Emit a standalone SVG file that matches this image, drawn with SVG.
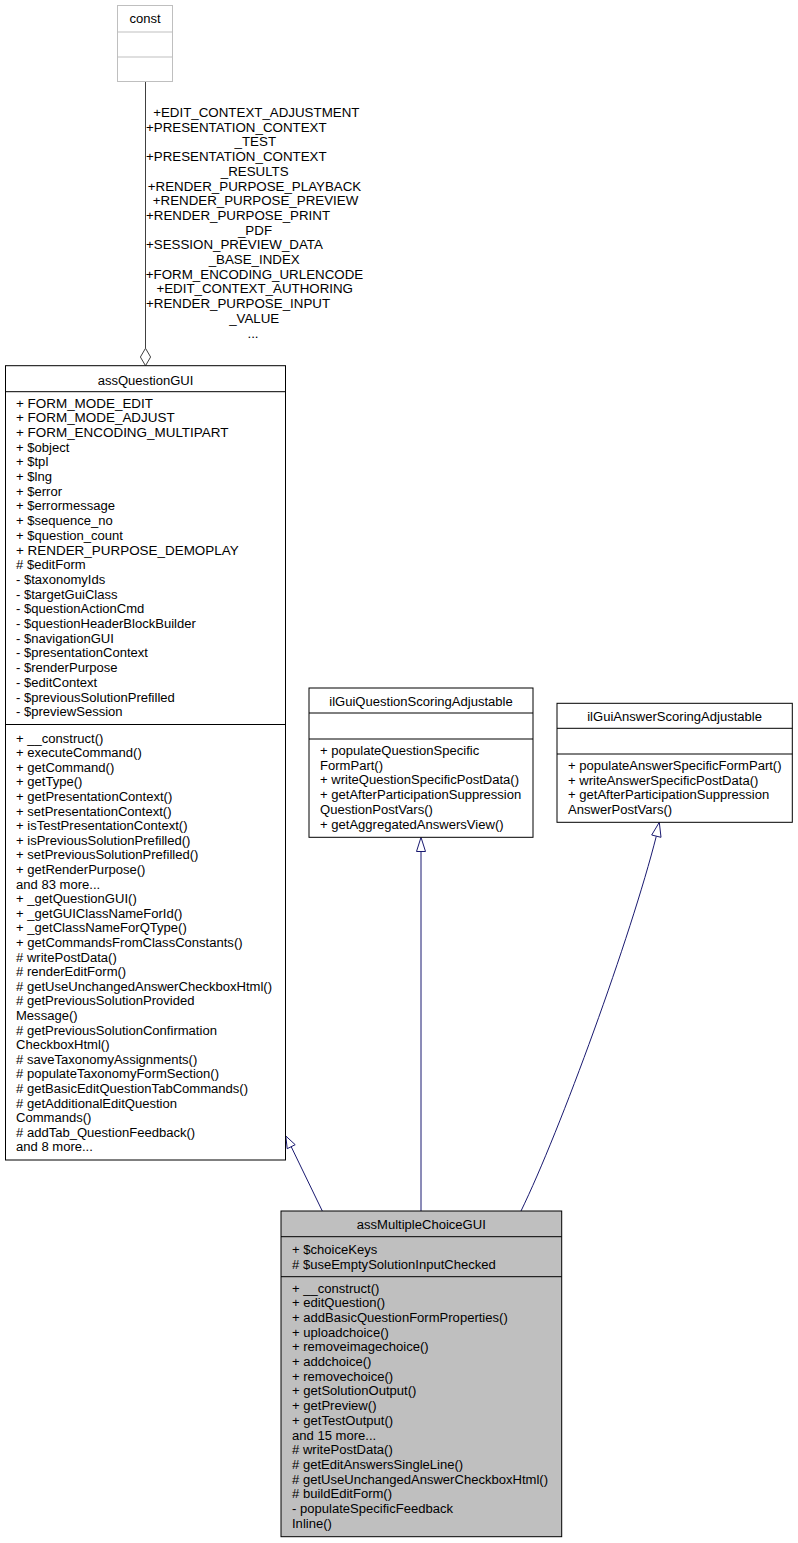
<svg xmlns="http://www.w3.org/2000/svg" width="798" height="1543" viewBox="0 0 798 1543">
<style>
text{font-family:"Liberation Sans",Arial,Helvetica,sans-serif;font-size:13.05px;fill:#000}
#const-labels text{font-size:13.33px}
.u{font-size:13.45px}
.c{text-anchor:middle}
.box{fill:#fff;stroke:#000;stroke-width:1}
.gbox{fill:#bfbfbf;stroke:#000;stroke-width:1}
.cbox{fill:#fff;stroke:#bfbfbf;stroke-width:1}
.ln{stroke:#000;stroke-width:1}
.cln{stroke:#bfbfbf;stroke-width:1}
.inh{fill:none;stroke:#191970;stroke-width:1}
.inhh{fill:#fff;stroke:#191970;stroke-width:1}
.agg{fill:none;stroke:#404040;stroke-width:1}
.aggh{fill:#fff;stroke:#404040;stroke-width:1}
</style>
<rect width="798" height="1543" fill="#fff"/>
<g id="connectors">
<line class="agg" x1="145.5" y1="81.5" x2="145.5" y2="348.3"/>
<polygon class="aggh" points="145.5,348.3 150.6,357 145.5,365.7 140.4,357"/>
<g id="const-labels">
<text class="c" x="256.3" y="117">+EDIT_CONTEXT_ADJUSTMENT</text>
<text x="146" y="131.7">+PRESENTATION_CONTEXT</text>
<text class="c" x="255.3" y="146.4">_TEST</text>
<text x="146" y="161.1">+PRESENTATION_CONTEXT</text>
<text class="c" x="254.7" y="175.8">_RESULTS</text>
<text class="c" x="254.5" y="190.5">+RENDER_PURPOSE_PLAYBACK</text>
<text class="c" x="255.5" y="205.2">+RENDER_PURPOSE_PREVIEW</text>
<text x="146" y="219.9">+RENDER_PURPOSE_PRINT</text>
<text class="c" x="255" y="234.6">_PDF</text>
<text x="146" y="249.3">+SESSION_PREVIEW_DATA</text>
<text class="c" x="254.2" y="264">_BASE_INDEX</text>
<text class="c" x="254.5" y="278.7">+FORM_ENCODING_URLENCODE</text>
<text class="c" x="254.7" y="293.4">+EDIT_CONTEXT_AUTHORING</text>
<text x="146" y="308.1">+RENDER_PURPOSE_INPUT</text>
<text class="c" x="254.2" y="322.8">_VALUE</text>
<text class="c" x="253" y="337.5">...</text>
</g>
<line class="inh" x1="322.3" y1="1211" x2="291.2" y2="1146.7"/>
<polygon class="inhh" points="285.8,1136 295.2,1144.7 287.2,1148.7"/>
<line class="inh" x1="421" y1="1211" x2="421" y2="851.5"/>
<polygon class="inhh" points="421,837.3 416.5,851.5 425.5,851.5"/>
<path class="inh" d="M521,1211 C560,1131 631,936 656.3,836.2"/>
<polygon class="inhh" points="659.3,822.3 651.7,835 661,837.3"/>
</g>
<g id="node-const">
<rect class="cbox" x="117.5" y="5.5" width="55" height="76"/>
<line class="cln" x1="117.5" y1="32" x2="172.5" y2="32"/>
<line class="cln" x1="117.5" y1="57" x2="172.5" y2="57"/>
<text class="c" x="145" y="23">const</text>
</g>
<g id="node-assQuestionGUI">
<rect class="box" x="5.5" y="365.7" width="280" height="794.3"/>
<line class="ln" x1="5.5" y1="391.7" x2="285.5" y2="391.7"/>
<line class="ln" x1="5.5" y1="724.5" x2="285.5" y2="724.5"/>
<text class="c" x="145.5" y="384.5">assQuestionGUI</text>
<text class="u" x="16" y="407.5">+ FORM_MODE_EDIT</text>
<text class="u" x="16" y="422.2">+ FORM_MODE_ADJUST</text>
<text class="u" x="16" y="436.9">+ FORM_ENCODING_MULTIPART</text>
<text x="16" y="451.6">+ $object</text>
<text x="16" y="466.3">+ $tpl</text>
<text x="16" y="481">+ $lng</text>
<text x="16" y="495.7">+ $error</text>
<text x="16" y="510.4">+ $errormessage</text>
<text x="16" y="525.1">+ $sequence_no</text>
<text x="16" y="539.8">+ $question_count</text>
<text class="u" x="16" y="554.5">+ RENDER_PURPOSE_DEMOPLAY</text>
<text x="16" y="569.2"># $editForm</text>
<text x="16" y="583.9">- $taxonomyIds</text>
<text x="16" y="598.6">- $targetGuiClass</text>
<text x="16" y="613.3">- $questionActionCmd</text>
<text x="16" y="628">- $questionHeaderBlockBuilder</text>
<text x="16" y="642.7">- $navigationGUI</text>
<text x="16" y="657.4">- $presentationContext</text>
<text x="16" y="672.1">- $renderPurpose</text>
<text x="16" y="686.8">- $editContext</text>
<text x="16" y="701.5">- $previousSolutionPrefilled</text>
<text x="16" y="716.2">- $previewSession</text>
<text x="16" y="742.5">+ __construct()</text>
<text x="16" y="757.1">+ executeCommand()</text>
<text x="16" y="771.7">+ getCommand()</text>
<text x="16" y="786.3">+ getType()</text>
<text x="16" y="800.9">+ getPresentationContext()</text>
<text x="16" y="815.5">+ setPresentationContext()</text>
<text x="16" y="830.1">+ isTestPresentationContext()</text>
<text x="16" y="844.7">+ isPreviousSolutionPrefilled()</text>
<text x="16" y="859.3">+ setPreviousSolutionPrefilled()</text>
<text x="16" y="873.9">+ getRenderPurpose()</text>
<text x="16" y="888.5">and 83 more...</text>
<text x="16" y="903.1">+ _getQuestionGUI()</text>
<text x="16" y="917.7">+ _getGUIClassNameForId()</text>
<text x="16" y="932.3">+ _getClassNameForQType()</text>
<text x="16" y="946.9">+ getCommandsFromClassConstants()</text>
<text x="16" y="961.5"># writePostData()</text>
<text x="16" y="976.1"># renderEditForm()</text>
<text x="16" y="990.7"># getUseUnchangedAnswerCheckboxHtml()</text>
<text x="16" y="1005.3"># getPreviousSolutionProvided</text>
<text x="16" y="1019.9">Message()</text>
<text x="16" y="1034.5"># getPreviousSolutionConfirmation</text>
<text x="16" y="1049.1">CheckboxHtml()</text>
<text x="16" y="1063.7"># saveTaxonomyAssignments()</text>
<text x="16" y="1078.3"># populateTaxonomyFormSection()</text>
<text x="16" y="1092.9"># getBasicEditQuestionTabCommands()</text>
<text x="16" y="1107.5"># getAdditionalEditQuestion</text>
<text x="16" y="1122.1">Commands()</text>
<text x="16" y="1136.7"># addTab_QuestionFeedback()</text>
<text x="16" y="1151.3">and 8 more...</text>
</g>
<g id="node-ilGuiQuestionScoringAdjustable">
<rect class="box" x="309" y="688" width="224" height="149.3"/>
<line class="ln" x1="309" y1="713" x2="533" y2="713"/>
<line class="ln" x1="309" y1="739" x2="533" y2="739"/>
<text class="c" x="421" y="705.5">ilGuiQuestionScoringAdjustable</text>
<text x="320" y="755">+ populateQuestionSpecific</text>
<text x="320" y="769.7">FormPart()</text>
<text x="320" y="784.4">+ writeQuestionSpecificPostData()</text>
<text x="320" y="799.1">+ getAfterParticipationSuppression</text>
<text x="320" y="813.8">QuestionPostVars()</text>
<text x="320" y="828.5">+ getAggregatedAnswersView()</text>
</g>
<g id="node-ilGuiAnswerScoringAdjustable">
<rect class="box" x="557" y="703.3" width="235.3" height="119"/>
<line class="ln" x1="557" y1="728.3" x2="792.3" y2="728.3"/>
<line class="ln" x1="557" y1="754" x2="792.3" y2="754"/>
<text class="c" x="674.6" y="720.5">ilGuiAnswerScoringAdjustable</text>
<text x="568" y="770">+ populateAnswerSpecificFormPart()</text>
<text x="568" y="784.7">+ writeAnswerSpecificPostData()</text>
<text x="568" y="799.4">+ getAfterParticipationSuppression</text>
<text x="568" y="814.1">AnswerPostVars()</text>
</g>
<g id="node-assMultipleChoiceGUI">
<rect class="gbox" x="281" y="1211" width="280.7" height="325.7"/>
<line class="ln" x1="281" y1="1236.7" x2="561.7" y2="1236.7"/>
<line class="ln" x1="281" y1="1276.7" x2="561.7" y2="1276.7"/>
<text class="c" x="421.3" y="1228.5">assMultipleChoiceGUI</text>
<text x="292" y="1254">+ $choiceKeys</text>
<text x="292" y="1268.7"># $useEmptySolutionInputChecked</text>
<text x="292" y="1292.5">+ __construct()</text>
<text x="292" y="1307.2">+ editQuestion()</text>
<text x="292" y="1321.9">+ addBasicQuestionFormProperties()</text>
<text x="292" y="1336.6">+ uploadchoice()</text>
<text x="292" y="1351.3">+ removeimagechoice()</text>
<text x="292" y="1366">+ addchoice()</text>
<text x="292" y="1380.7">+ removechoice()</text>
<text x="292" y="1395.4">+ getSolutionOutput()</text>
<text x="292" y="1410.1">+ getPreview()</text>
<text x="292" y="1424.8">+ getTestOutput()</text>
<text x="292" y="1439.5">and 15 more...</text>
<text x="292" y="1454.2"># writePostData()</text>
<text x="292" y="1468.9"># getEditAnswersSingleLine()</text>
<text x="292" y="1483.6"># getUseUnchangedAnswerCheckboxHtml()</text>
<text x="292" y="1498.3"># buildEditForm()</text>
<text x="292" y="1513">- populateSpecificFeedback</text>
<text x="292" y="1527.7">Inline()</text>
</g>
</svg>
